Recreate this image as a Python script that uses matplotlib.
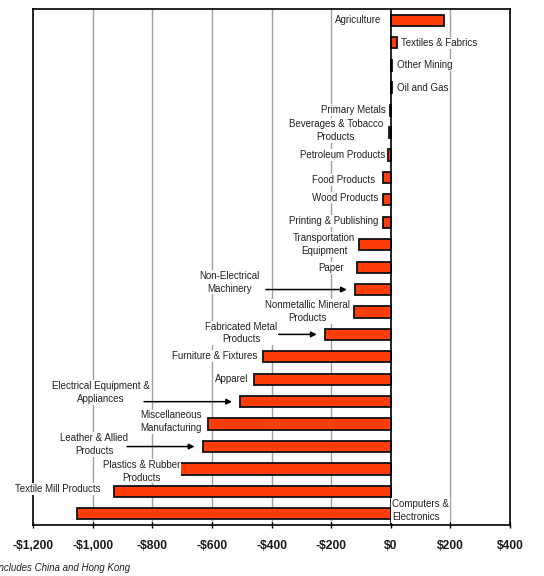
import numpy as np
import matplotlib
matplotlib.use("Agg")
import matplotlib.pyplot as plt

plt.rcParams['font.family'] = ['Liberation Sans', 'DejaVu Sans']

# trade balance change by industry, $ millions
industries = ["Agriculture", "Textiles & Fabrics", "Other Mining", "Oil and Gas",
              "Primary Metals", "Beverages & Tobacco\nProducts", "Petroleum Products",
              "Food Products", "Wood Products", "Printing & Publishing",
              "Transportation\nEquipment", "Paper", "Non-Electrical\nMachinery",
              "Nonmetallic Mineral\nProducts", "Fabricated Metal\nProducts",
              "Furniture & Fixtures", "Apparel", "Electrical Equipment &\nAppliances",
              "Miscellaneous\nManufacturing", "Leather & Allied\nProducts",
              "Plastics & Rubber\nProducts", "Textile Mill Products",
              "Computers &\nElectronics"]
values = [178, 22, 5, 5, -4, -5, -8, -26, -25, -27, -105, -114, -120, -123,
          -221, -428, -458, -505, -614, -631, -709, -930, -1052]
xticks = [-1200, -1000, -800, -600, -400, -200, 0, 200, 400]
xtick_labels = ["-$1,200", "-$1,000", "-$800", "-$600", "-$400", "-$200", "$0", "$200", "$400"]

# label placement: (x, ha, arrow tail x or None)
label_pos = [(-33, 'right', None), (33, 'left', None), (20, 'left', None), (20, 'left', None),
             (-17, 'right', None), (-184, 'center', None), (-20, 'right', None),
             (-54, 'right', None), (-40, 'right', None), (-40, 'right', None),
             (-224, 'center', None), (-200, 'center', None), (-542, 'center', -428),
             (-281, 'center', None), (-502, 'center', -385), (-589, 'center', None),
             (-535, 'center', None), (-974, 'center', -837), (-736, 'center', None),
             (-994, 'center', -894), (-837, 'center', None), (-1118, 'center', None),
             (5, 'left', None)]
label_dy = [0, 0, 0, 0, 0, -0.08, 0, 0.1, -0.1, -0.05, 0, 0.05, -0.33, -0.02, -0.06,
            -0.03, 0, -0.4, -0.1, -0.1, 0.1, -0.1, -0.15]

fig = plt.figure(figsize=(5.44, 5.76), dpi=100)
ax = fig.add_axes([0.0607, 0.0885, 0.8768, 0.8955])

y = np.arange(len(industries))
ax.barh(y, values, height=0.5, color='#FF3D08', edgecolor='#111111', linewidth=1.3, zorder=2)

ax.set_xlim(-1200, 400)
ax.set_ylim(len(industries) - 0.5, -0.5)
for t in xticks[1:-1]:
    if t != 0:
        ax.axvline(t, color='#a0a0a0', linewidth=1.0, zorder=0)
ax.axvline(0, color='black', linewidth=1.2, zorder=3)

for i, name in enumerate(industries):
    lx, ha, tail = label_pos[i]
    ax.text(lx, i + label_dy[i], name, ha=ha, va='center', fontsize=7,
            color='#222222', linespacing=1.35, zorder=4,
            bbox=dict(facecolor='white', edgecolor='none', pad=0.6))
    if tail is not None:
        ax.annotate('', xy=(values[i] - 18, i), xytext=(tail, i),
                    arrowprops=dict(arrowstyle='-|>', color='black', lw=1.1,
                                    mutation_scale=8), zorder=5)

ax.set_yticks([])
ax.set_xticks(xticks)
ax.set_xticklabels(xtick_labels, fontsize=8.7, fontweight='bold', color='#1a1a1a')
ax.tick_params(axis='x', direction='inout', length=5, width=1, pad=8)
for s in ax.spines.values():
    s.set_linewidth(1.2)

fig.text(130 / 544, 0.014, "*Includes China and Hong Kong", ha='right', va='center',
         fontsize=7, style='italic', color='#222222')

fig.savefig("out.png", dpi=100)
